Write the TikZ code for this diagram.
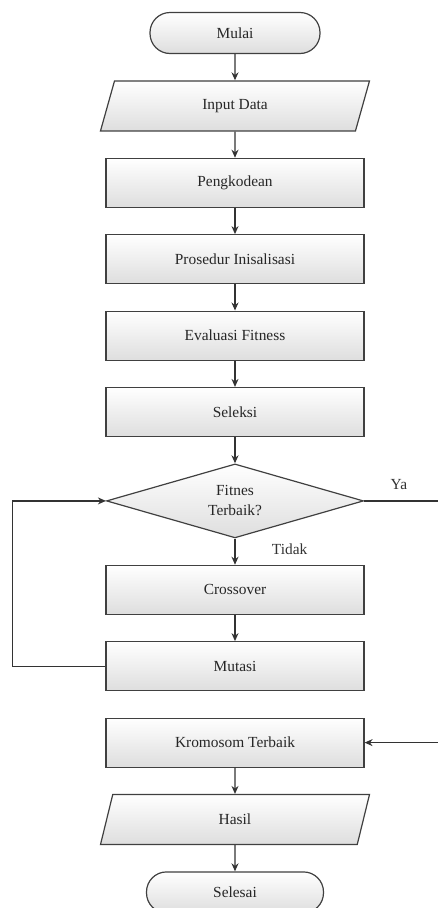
\documentclass[tikz,border=0pt]{standalone}
\usepackage{fontspec}
\setmainfont{Liberation Serif}
\usepackage{tikz}
\usetikzlibrary{arrows.meta,shapes.geometric,calc,positioning}

\begin{document}
\begin{tikzpicture}[->,>={Stealth[length=8pt,width=7pt]},auto,node distance=26.2pt,line width=1.2pt,
    color=black!80, font=\fontsize{15.4}{20}\selectfont]
  \tikzstyle{base}=[draw=black!75, top color=white, bottom color=black!13, text=black!85, align=center]
  \tikzstyle{terminal}=[base, rectangle, rounded corners=20pt, minimum height=41pt]
  \tikzstyle{box}=[base, rectangle, minimum width=258pt, minimum height=49pt]
  \tikzstyle{io}=[base, trapezium, trapezium left angle=55, trapezium right angle=125,
    trapezium stretches body, minimum width=269pt, minimum height=50pt]
  \tikzstyle{decision}=[base, diamond, aspect=3.6, inner sep=0pt, minimum width=257pt, minimum height=74pt]
  \useasboundingbox (0,0) rectangle (437pt,-908pt);
  \node[terminal, minimum width=170pt] (mulai) at (235pt,-33pt) {Mulai};
  \node[io]         (input)    [below=of mulai]    {Input Data};
  \node[box]        (kode)     [below=of input]    {Pengkodean};
  \node[box]        (inisial)  [below=of kode]     {Prosedur Inisalisasi};
  \node[box]        (evaluasi) [below=of inisial]  {Evaluasi Fitness};
  \node[box]        (seleksi)  [below=of evaluasi] {Seleksi};
  \node[decision]   (fitnes)   [below=of seleksi]  {Fitnes\\Terbaik?};
  \node[box]        (cross)    [below=of fitnes]   {Crossover};
  \node[box]        (mutasi)   [below=of cross]    {Mutasi};
  \node[box]        (terbaik)  [below=of mutasi]   {Kromosom Terbaik};
  \node[io]         (hasil)    [below=of terbaik]  {Hasil};
  \node[terminal, minimum width=177pt] (selesai) [below=of hasil] {Selesai};
  \coordinate (yakanan) at ($(fitnes.east)+(74pt,0)$);
  \coordinate (masuk) at ($(terbaik.east)+(73pt,0)$);
  \path
  (mulai) edge (input)
  (input) edge (kode)
  (kode) edge (inisial)
  (inisial) edge (evaluasi)
  (evaluasi) edge (seleksi)
  (seleksi) edge (fitnes)
  (fitnes) edge node[right=33pt, pos=0.4] {Tidak} (cross)
  (cross) edge (mutasi)
  (terbaik) edge (hasil)
  (hasil) edge (selesai)
  (masuk) edge (terbaik);
  \draw[-] (fitnes.east) -- node[above=7pt, pos=0.47] {Ya} (yakanan);
  \draw (mutasi.west) -- ++(-93pt,0) |- (fitnes.west);
\end{tikzpicture}
\end{document}
